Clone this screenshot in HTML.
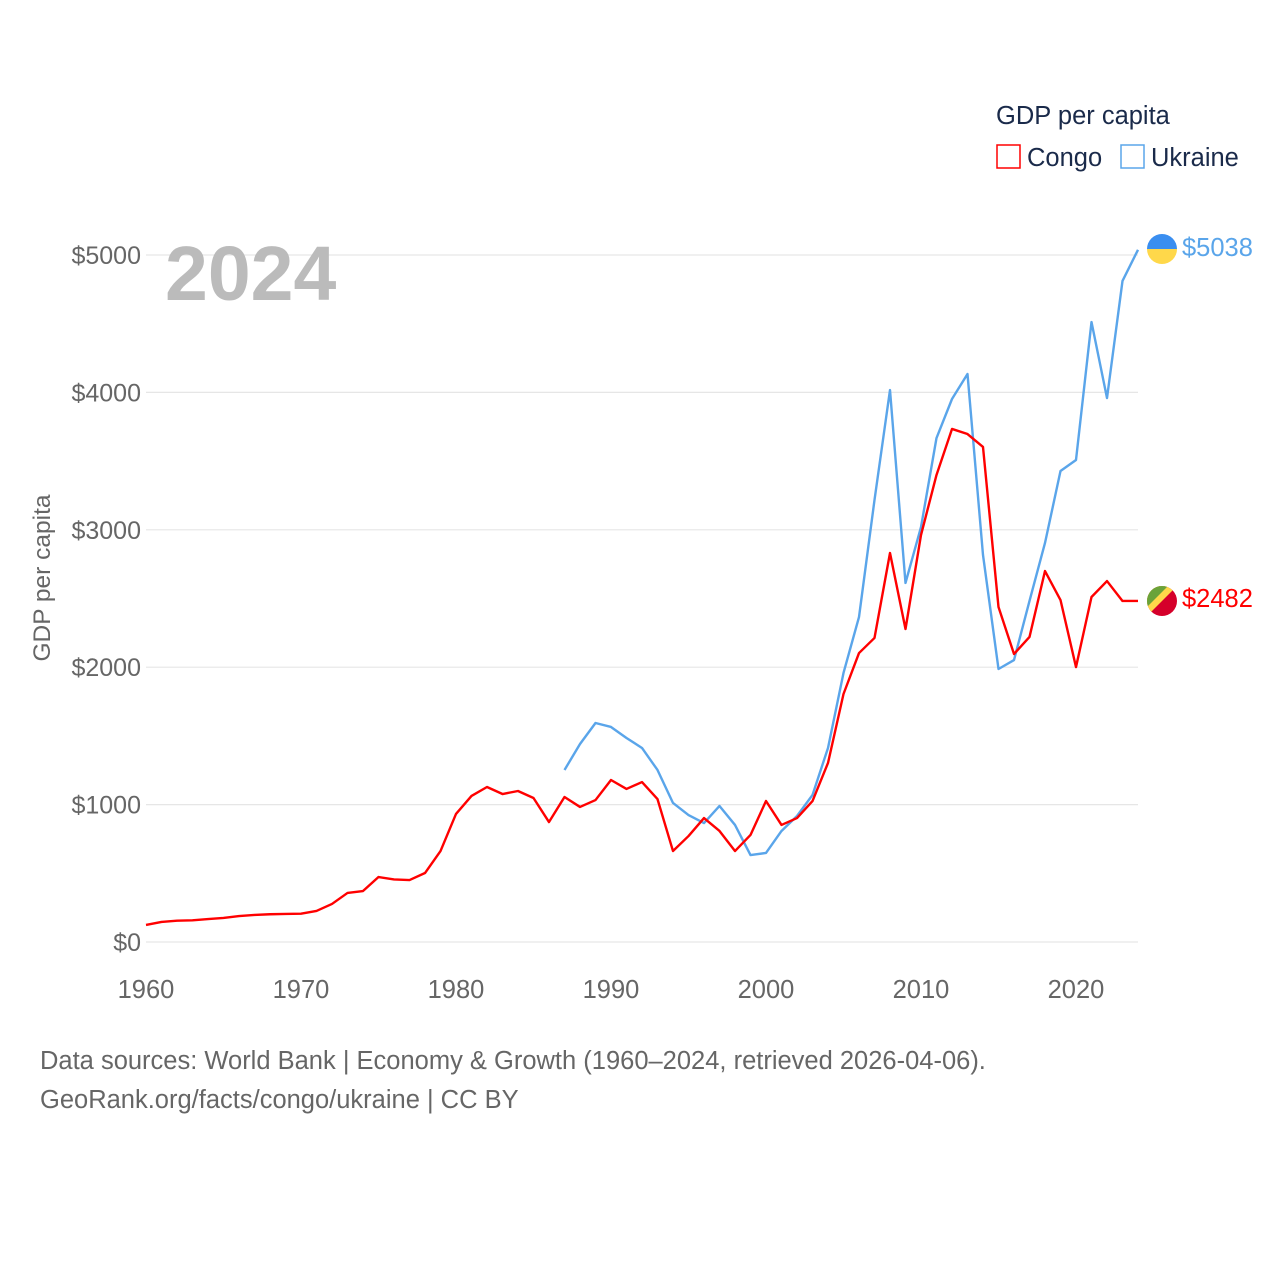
<!DOCTYPE html>
<html><head><meta charset="utf-8"><style>
body{margin:0;background:#fff;width:1280px;height:1280px;overflow:hidden;font-family:"Liberation Sans",sans-serif}
</style></head><body>
<svg width="1280" height="1280" viewBox="0 0 1280 1280">
<g id="grid"></g>
<g id="yticks"></g>
<g id="xticks"></g>
<text x="50" y="578" transform="rotate(-90 50 578)" text-anchor="middle" font-size="24.5" fill="#666">GDP per capita</text>
<text x="165" y="300" font-size="77" font-weight="bold" fill="#bbb">2024</text>
<text x="996" y="124" font-size="25.5" fill="#1a2a4a">GDP per capita</text>
<g><rect x="997" y="145" width="23" height="23" fill="none" stroke="#f00" stroke-width="1.5"/><text x="1027" y="166" font-size="25.5" fill="#1a2a4a">Congo</text></g>
<g><rect x="1121" y="145" width="23" height="23" fill="none" stroke="#5aa5ea" stroke-width="1.5"/><text x="1151" y="166" font-size="25.5" fill="#1a2a4a">Ukraine</text></g>
<g id="series"></g>
<g><clipPath id="cu"><circle cx="1162" cy="249" r="15"/></clipPath><g clip-path="url(#cu)"><rect x="1147" y="234" width="30" height="15" fill="#3a8ef0"/><rect x="1147" y="249" width="30" height="15" fill="#ffd84a"/></g></g>
<text x="1182" y="256" font-size="25.5" fill="#5aa5ea">$5038</text>
<g><clipPath id="cc"><circle cx="1162" cy="601" r="15"/></clipPath><g clip-path="url(#cc)"><rect x="1147" y="586" width="30" height="30" fill="#d5002a"/><polygon points="1147,586 1177,586 1147,616" fill="#ffd84a"/><polygon points="1147,586 1168,586 1147,607" fill="#6aa33a"/></g></g>
<text x="1182" y="607" font-size="25.5" fill="#f00">$2482</text>
<text x="40" y="1069" font-size="25.5" fill="#666">Data sources: World Bank | Economy &amp; Growth (1960–2024, retrieved 2026-04-06).</text>
<text x="40" y="1108" font-size="25.5" fill="#666">GeoRank.org/facts/congo/ukraine | CC BY</text>
</svg>
<script>
const yTicks=[0,1000,2000,3000,4000,5000];
const xTicks=[1960,1970,1980,1990,2000,2010,2020];
const congoYears=[1960,1961,1962,1963,1964,1965,1966,1967,1968,1969,1970,1971,1972,1973,1974,1975,1976,1977,1978,1979,1980,1981,1982,1983,1984,1985,1986,1987,1988,1989,1990,1991,1992,1993,1994,1995,1996,1997,1998,1999,2000,2001,2002,2003,2004,2005,2006,2007,2008,2009,2010,2011,2012,2013,2014,2015,2016,2017,2018,2019,2020,2021,2022,2023,2024];
const congoValues=[124,146,155,158,167,175,189,197,202,204,206,226,277,357,371,473,455,451,502,662,932,1063,1128,1077,1099,1048,873,1055,983,1033,1179,1114,1164,1040,662,771,902,808,662,779,1026,852,902,1026,1303,1805,2103,2213,2831,2278,2962,3399,3734,3697,3603,2438,2096,2220,2700,2489,2001,2511,2627,2482,2482];
const ukraineYears=[1987,1988,1989,1990,1991,1992,1993,1994,1995,1996,1997,1998,1999,2000,2001,2002,2003,2004,2005,2006,2007,2008,2009,2010,2011,2012,2013,2014,2015,2016,2017,2018,2019,2020,2021,2022,2023,2024];
const ukraineValues=[1252,1441,1594,1565,1485,1412,1252,1012,924,866,990,852,633,648,808,917,1070,1412,1958,2365,3217,4017,2613,3020,3668,3952,4134,2817,1987,2052,2482,2904,3428,3508,4512,3959,4811,5038];
const NS='http://www.w3.org/2000/svg';
const X=y=>146+(y-1960)*15.5;
const Y=v=>942-v*0.1374;
const grid=document.getElementById('grid'),yt=document.getElementById('yticks'),xt=document.getElementById('xticks'),ser=document.getElementById('series');
yTicks.forEach(v=>{
 const l=document.createElementNS(NS,'line');
 
 
 l.setAttribute('x1',146);l.setAttribute('x2',1138);l.setAttribute('y1',Y(v));l.setAttribute('y2',Y(v));
 l.setAttribute('stroke','#e6e6e6');l.setAttribute('stroke-width','1.2');grid.appendChild(l);
 const t=document.createElementNS(NS,'text');
 
 
 t.setAttribute('x',141);t.setAttribute('y',Y(v)+9);t.setAttribute('text-anchor','end');t.setAttribute('font-size','25');t.setAttribute('fill','#666');
 t.textContent='$'+v;yt.appendChild(t);
});
xTicks.forEach(v=>{
 const t=document.createElementNS(NS,'text');
 
 
 t.setAttribute('x',X(v));t.setAttribute('y',998);t.setAttribute('text-anchor','middle');t.setAttribute('font-size','25.5');t.setAttribute('fill','#666');
 t.textContent=v;xt.appendChild(t);
});
function line(years,vals,color,name){
 const p=document.createElementNS(NS,'polyline');
 
 
 p.setAttribute('points',years.map((y,i)=>X(y)+','+Y(vals[i])).join(' '));
 p.setAttribute('fill','none');p.setAttribute('stroke',color);p.setAttribute('stroke-width','2.4');p.setAttribute('stroke-linejoin','round');
 ser.appendChild(p);
}
line(ukraineYears,ukraineValues,'#5aa5ea','ukraine-line');
line(congoYears,congoValues,'#ff0000','congo-line');
</script>
</body></html>
